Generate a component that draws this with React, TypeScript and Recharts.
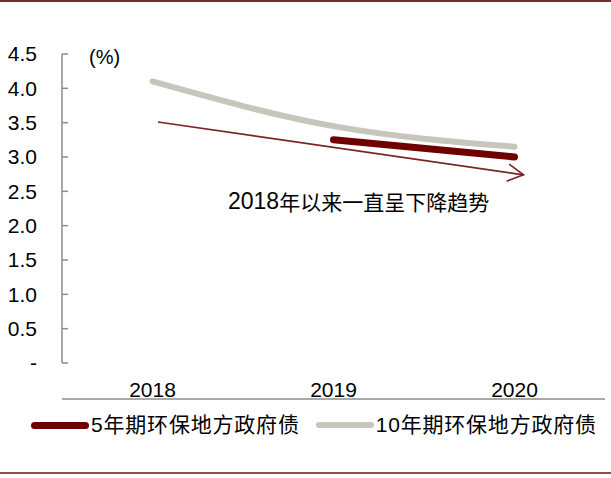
import { LineChart, Line, XAxis, YAxis, ReferenceLine } from 'recharts';

const years = ['2018', '2019', '2020'];
const bond5y = [null, 3.25, 3.0];
const bond10y = [4.1, 3.45, 3.15];
const yTicks = [0, 0.5, 1, 1.5, 2, 2.5, 3, 3.5, 4, 4.5];
const bandTicks = [-0.5, 0.5, 1.5, 2.5];
const trendStart = { x: 0.03, y: 3.51 };
const trendEnd = { x: 2.05, y: 2.74 };

const series = [
  { key: 'b5', name: '5年期环保地方政府债', color: '#6E0000', width: 7 },
  { key: 'b10', name: '10年期环保地方政府债', color: '#C6C6BC', width: 6 },
];

const data = years.map((year, i) => ({ year, idx: i, b5: bond5y[i], b10: bond10y[i] }));

const sans = "'Liberation Sans', Arial, 'Noto Sans CJK SC', sans-serif";

const Arrow = (p: any) => {
  const { x1, y1, x2, y2 } = p;
  const ang = Math.atan2(y2 - y1, x2 - x1);
  const len = 18;
  const spread = 0.5;
  const ax = x2 - len * Math.cos(ang - spread);
  const ay = y2 - len * Math.sin(ang - spread);
  const bx = x2 - len * Math.cos(ang + spread);
  const by = y2 - len * Math.sin(ang + spread);
  return (
    <g>
      <line x1={x1} y1={y1} x2={x2} y2={y2} stroke="#7A2525" strokeWidth={1.6} />
      <polyline points={`${ax},${ay} ${x2},${y2} ${bx},${by}`} fill="none" stroke="#7A2525" strokeWidth={1.6} />
    </g>
  );
};

export default function App() {
  return (
    <div style={{ position: 'absolute', left: 0, top: 0, width: 611, height: 478, background: '#fff', overflow: 'hidden', fontFamily: sans }}>
      {/* frame lines */}
      <div style={{ position: 'absolute', left: 0, top: 0, width: 611, height: 2, background: '#7B2A2A' }} />
      <div style={{ position: 'absolute', left: 0, top: 472, width: 611, height: 2, background: '#9A4A4A' }} />

      <LineChart width={611} height={400} data={data} margin={{ top: 54, right: 6, bottom: 0, left: 0 }}>
        <XAxis
          xAxisId="num"
          dataKey="idx"
          type="number"
          domain={[-0.5, 2.5]}
          ticks={bandTicks}
          tick={false}
          tickSize={-6}
          height={1}
          axisLine={{ stroke: '#8C8C8C', strokeWidth: 1.5 }}
          tickLine={{ stroke: '#8C8C8C', strokeWidth: 1.5 }}
        />
        <XAxis
          xAxisId="cat"
          dataKey="year"
          scale="band"
          height={36}
          axisLine={false}
          tickLine={false}
          tickSize={0}
          tickMargin={19}
          tick={{ fill: '#000', fontSize: 21, fontFamily: sans }}
        />
        <YAxis
          domain={[0, 4.5]}
          ticks={yTicks}
          width={62}
          tickSize={-6}
          tickMargin={31}
          interval={0}
          tickFormatter={(v: number) => (v === 0 ? '-' : v.toFixed(1))}
          tick={{ fill: '#000', fontSize: 21, fontFamily: sans }}
          axisLine={{ stroke: '#8C8C8C', strokeWidth: 1.5 }}
          tickLine={{ stroke: '#8C8C8C', strokeWidth: 1.5 }}
        />
        <ReferenceLine
          xAxisId="num"
          segment={[trendStart, trendEnd]}
          ifOverflow="visible"
          shape={Arrow}
        />
        {series.slice().reverse().map(s => (
          <Line
            key={s.key}
            xAxisId="num"
            dataKey={s.key}
            name={s.name}
            type="monotone"
            stroke={s.color}
            strokeWidth={s.width}
            strokeLinecap="round"
            dot={false}
            activeDot={false}
            isAnimationActive={false}
          />
        ))}
      </LineChart>

      <div style={{ position: 'absolute', left: 89, top: 47, fontSize: 20, lineHeight: '20px', color: '#000' }}>(%)</div>
      <div style={{ position: 'absolute', left: 228, top: 188, height: 26, display: 'flex', alignItems: 'center', color: '#000', whiteSpace: 'nowrap' }}>
        <span style={{ fontSize: 23 }}>2018</span>
        <span style={{ fontSize: 21 }}>年以来一直呈下降趋势</span>
      </div>

      {/* legend */}
      <div style={{ position: 'absolute', left: 31, top: 413, display: 'flex', alignItems: 'center', height: 24 }}>
        {series.map((s, i) => (
          <div key={s.key} style={{ display: 'flex', alignItems: 'center', marginRight: i === 0 ? 16 : 0 }}>
            <div style={{ width: 58, height: s.width, borderRadius: s.width / 2, background: s.color, marginRight: 2 }} />
            <span style={{ fontSize: 21, lineHeight: '24px', letterSpacing: 0.8, color: '#000', whiteSpace: 'nowrap' }}>{s.name}</span>
          </div>
        ))}
      </div>
    </div>
  );
}
